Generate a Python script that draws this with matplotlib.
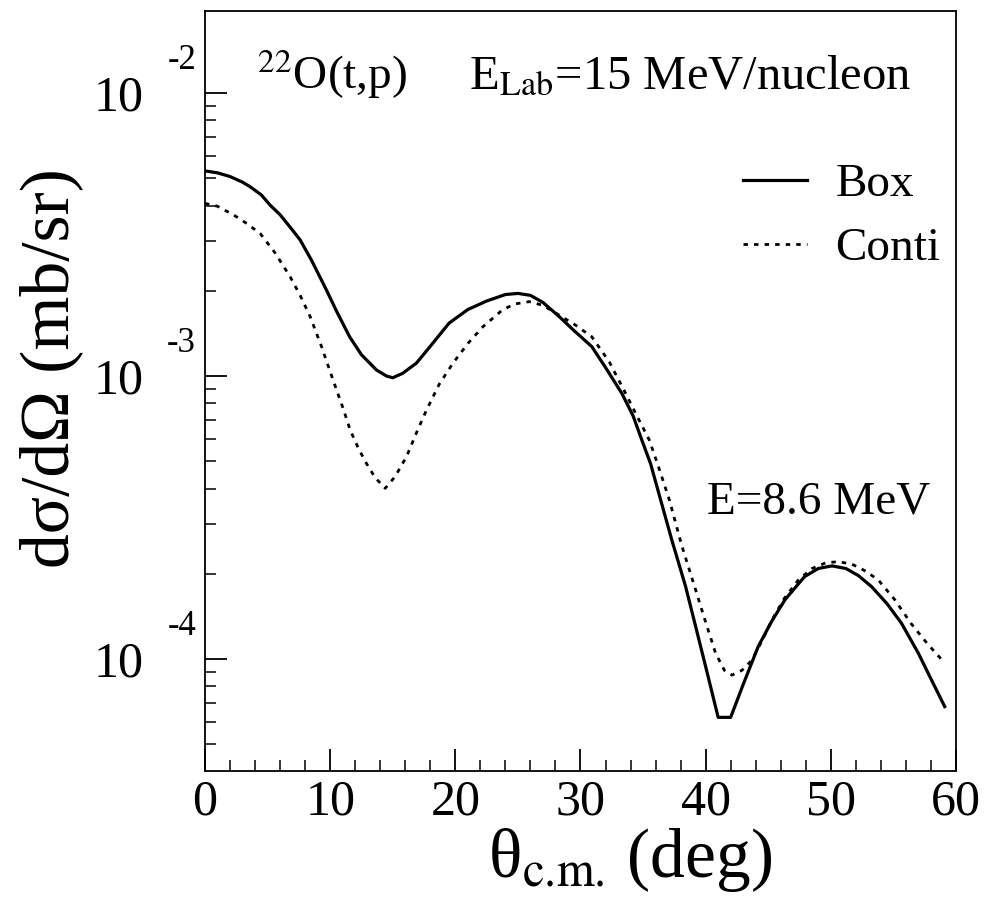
import numpy as np
import matplotlib
matplotlib.use('Agg')
import matplotlib.pyplot as plt

plt.rcParams['font.family'] = ['Liberation Serif', 'DejaVu Serif']
plt.rcParams['mathtext.fontset'] = 'stix'

# Box (durchgezogen)
theta_box = [0, 1, 2, 3, 3.6, 4.5, 5.2, 6, 7, 7.6, 8.5, 9.7, 10.5, 11.55, 12.5, 13.7,
             14.5, 15, 15.8, 16.9, 18, 19.5, 21, 22.5, 24, 25, 26, 27, 28.3, 29.5,
             30.9, 32, 33.3, 34.2, 34.9, 35.6, 36.25, 37.3, 38.4, 39.2, 40.0, 41.0,
             42.0, 43, 44.2, 45.3, 46.35, 47.9, 49, 50.1, 51.2, 52.2, 53.25, 54.5,
             55.65, 57, 58, 59.1]
sigma_box = [5.309e-3, 5.224e-3, 5.070e-3, 4.842e-3, 4.667e-3, 4.365e-3, 4.018e-3,
             3.715e-3, 3.273e-3, 3.027e-3, 2.570e-3, 2.014e-3, 1.698e-3, 1.377e-3,
             1.189e-3, 1.050e-3, 1.000e-3, 9.86e-4, 1.023e-3, 1.112e-3, 1.274e-3,
             1.538e-3, 1.718e-3, 1.841e-3, 1.941e-3, 1.959e-3, 1.928e-3, 1.820e-3,
             1.622e-3, 1.445e-3, 1.271e-3, 1.072e-3, 8.69e-4, 7.24e-4, 5.94e-4,
             4.90e-4, 3.86e-4, 2.63e-4, 1.803e-4, 1.303e-4, 9.40e-5, 6.22e-5, 6.22e-5,
             8.13e-5, 1.107e-4, 1.365e-4, 1.622e-4, 1.954e-4, 2.089e-4, 2.133e-4,
             2.089e-4, 1.972e-4, 1.803e-4, 1.567e-4, 1.337e-4, 1.047e-4, 8.51e-5,
             6.79e-5]

# Conti (gepunktet)
theta_conti = [0, 1, 2.3, 3.3, 4.4, 5.6, 6.8, 7.6, 8.4, 9.3, 10.2, 11.0, 11.6, 12.3,
               12.9, 13.6, 14.4, 15.2, 16.1, 16.9, 17.7, 18.7, 19.8, 21.0, 22.2, 23.8,
               24.8, 25.9, 27, 28.3, 29.6, 30.9, 32.3, 33.6, 34.5, 35.5, 36.3, 37.1,
               38.1, 39.2, 40.0, 40.8, 41.5, 42.1, 42.9, 43.7, 44.5, 45.3, 46.3, 47.4,
               48.5, 49.6, 50.6, 51.7, 52.8, 53.8, 55.1, 56.4, 57.7, 59.0]
sigma_conti = [4.074e-3, 3.981e-3, 3.707e-3, 3.467e-3, 3.192e-3, 2.723e-3, 2.244e-3,
               1.928e-3, 1.622e-3, 1.274e-3, 9.77e-4, 7.76e-4, 6.44e-4, 5.50e-4,
               4.91e-4, 4.37e-4, 4.01e-4, 4.42e-4, 5.19e-4, 6.31e-4, 7.59e-4, 9.33e-4,
               1.109e-3, 1.303e-3, 1.493e-3, 1.718e-3, 1.799e-3, 1.832e-3, 1.778e-3,
               1.641e-3, 1.514e-3, 1.377e-3, 1.122e-3, 8.69e-4, 7.24e-4, 5.94e-4,
               4.68e-4, 3.65e-4, 2.51e-4, 1.754e-4, 1.349e-4, 1.047e-4, 9.12e-5,
               8.77e-5, 9.12e-5, 9.91e-5, 1.161e-4, 1.374e-4, 1.641e-4, 1.901e-4,
               2.089e-4, 2.188e-4, 2.208e-4, 2.163e-4, 2.042e-4, 1.901e-4, 1.622e-4,
               1.337e-4, 1.135e-4, 9.79e-5]

y_ticks = [1e-2, 1e-3, 1e-4]
y_exp = ['-2', '-3', '-4']
x_ticks = [0, 10, 20, 30, 40, 50, 60]

fig = plt.figure(figsize=(9.89, 9.16), dpi=100)
ax = fig.add_axes([0.2073, 0.1583, 0.7593, 0.8297])

ax.plot(theta_box, sigma_box, '-', color='black', lw=2.3, label='Box')
ax.plot(theta_conti, sigma_conti, color='black', lw=2.0,
        linestyle=(0, (1.6, 2.2)), label='Conti')

ax.set_yscale('log')
ax.set_xlim(0, 60)
ax.set_ylim(4.02e-5, 0.0195)

ax.set_xticks(x_ticks)
ax.set_xticks(np.arange(0, 61, 2), minor=True)
ax.set_xticklabels([str(v) for v in x_ticks], fontsize=36)
ax.set_yticks(y_ticks)
ax.set_yticklabels(['10'] * len(y_ticks), fontsize=36)
ax.yaxis.set_minor_formatter(matplotlib.ticker.NullFormatter())

ax.tick_params(axis='both', which='major', direction='in', length=16, width=1.3,
               top=False, right=False)
ax.tick_params(axis='both', which='minor', direction='in', length=8, width=1.1,
               top=False, right=False)
ax.tick_params(axis='x', which='major', pad=6)
ax.tick_params(axis='y', which='major', pad=44)

#Exponenten wie im Original neben die 10
for yt, ex in zip(y_ticks, y_exp):
    ax.annotate(ex, xy=(0, yt), xycoords=('axes fraction', 'data'),
                xytext=(-9, 33), textcoords='offset pixels',
                ha='right', va='center', fontsize=25)

for s in ax.spines.values():
    s.set_linewidth(1.3)

ax.set_xlabel(r'θ$_{\text{c.m.}}$ (deg)', fontsize=50)
ax.xaxis.set_label_coords(0.566, -0.072)
ax.set_ylabel('dσ/dΩ (mb/sr)', fontsize=50)
ax.yaxis.set_label_coords(-0.163, 0.53)

ax.text(4.15, 0.0103, r'$^{22}$O(t,p)', fontsize=34, ha='left', va='baseline')
ax.text(21.1, 0.0104, r'E$_{\rm Lab}$=15 MeV/nucleon', fontsize=35, ha='left', va='baseline')
ax.text(40.1, 3.28e-4, 'E=8.6 MeV', fontsize=34, ha='left', va='baseline')

ax.legend(loc='upper left', bbox_to_anchor=(0.716, 0.80), frameon=False,
          fontsize=34, handlelength=1.36, handletextpad=0.6, labelspacing=0.45,
          borderpad=0, borderaxespad=0)

fig.savefig('out.png', dpi=100)
